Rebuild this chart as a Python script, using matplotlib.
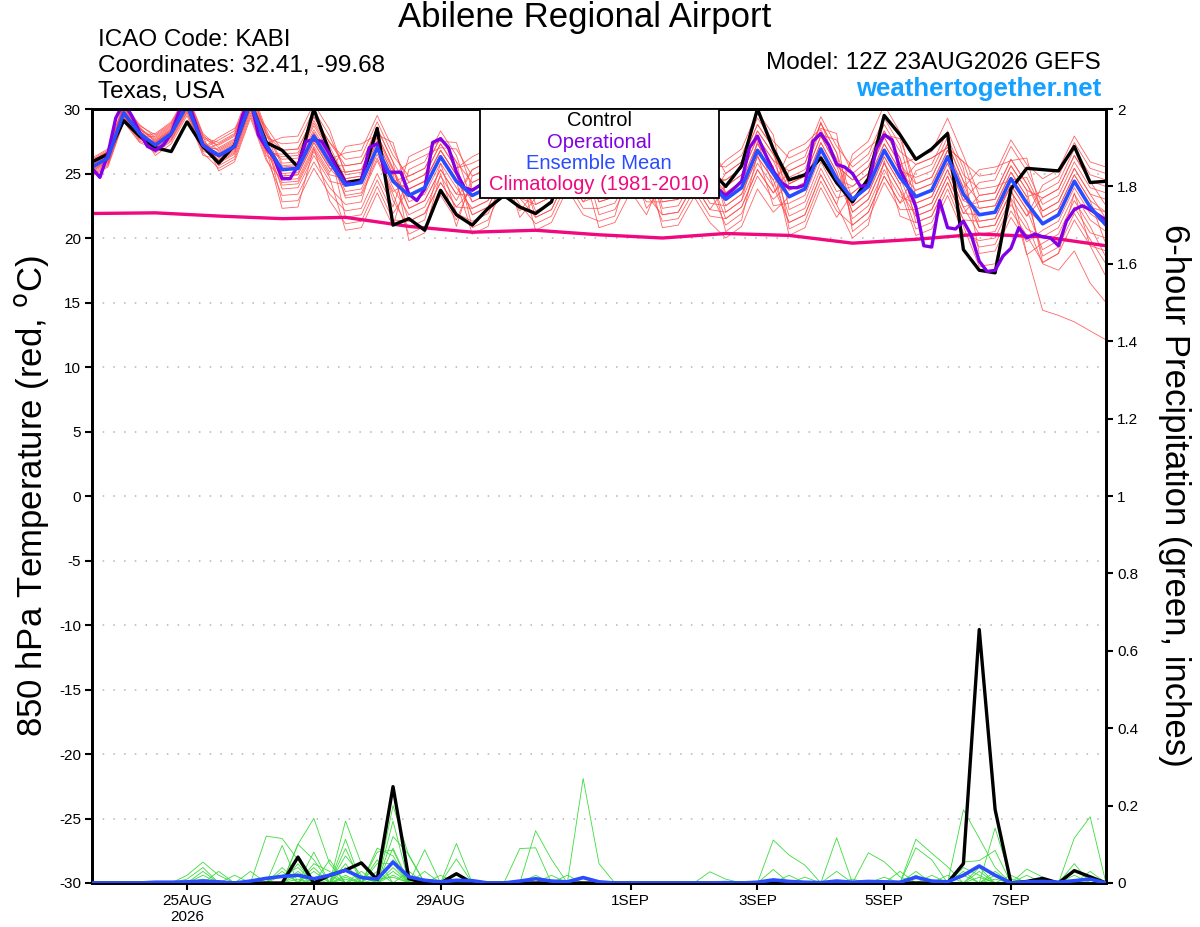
import numpy as np
import pandas as pd
import matplotlib
matplotlib.use('Agg')
import matplotlib.pyplot as plt
from matplotlib.patches import Rectangle

plt.rcParams['font.family'] = ['Liberation Sans', 'DejaVu Sans']

# -- time axes --
times = pd.date_range('2026-08-23 12:00', periods=65, freq='6h')
times_op = pd.date_range('2026-08-23 12:00', periods=129, freq='3h')
times_clim = pd.date_range('2026-08-23 12:00', periods=17, freq='D')

tick_dates = pd.to_datetime(['2026-08-25', '2026-08-27', '2026-08-29', '2026-09-01',
                             '2026-09-03', '2026-09-05', '2026-09-07'])
tick_labels = ['25AUG\n2026', '27AUG', '29AUG', '1SEP', '3SEP', '5SEP', '7SEP']

# -- 850 hPa temperature (C) --
control = [25.9, 26.5, 29.1, 27.9, 27.0, 26.7, 29.0, 27.1, 25.8, 27.2, 30.5, 27.4, 26.8,
           25.5, 30.0, 26.6, 24.3, 24.5, 28.5, 21.0, 21.5, 20.6, 23.7, 21.8, 21.0, 22.3,
           23.3, 22.4, 21.9, 22.8, 26.8, 25.0, 24.0, 24.5, 26.5, 25.2, 24.0, 24.3, 26.8,
           25.3, 24.0, 25.6, 30.0, 26.9, 24.5, 24.9, 26.2, 24.3, 22.8, 24.6, 29.5, 28.0,
           26.1, 26.9, 28.1, 19.1, 17.5, 17.3, 23.8, 25.4, 25.3, 25.2, 27.1, 24.3, 24.4]

ens_mean = [25.5, 26.2, 29.7, 28.1, 27.2, 28.1, 30.3, 27.2, 26.4, 27.1, 30.5, 27.2, 25.3,
            25.4, 27.9, 25.9, 24.1, 24.3, 27.0, 24.4, 23.3, 23.9, 26.3, 24.4, 23.3, 23.9,
            26.5, 24.6, 23.6, 24.2, 26.8, 24.8, 23.8, 24.2, 26.6, 24.8, 23.8, 24.0, 26.2,
            24.2, 23.0, 23.9, 26.8, 25.0, 23.2, 23.8, 26.9, 24.6, 23.0, 24.0, 26.8, 24.7,
            23.2, 23.7, 26.3, 23.4, 21.8, 22.0, 24.6, 22.7, 21.1, 21.8, 24.4, 22.4, 21.0]

# operational run is 3-hourly
operational = [25.4, 24.7, 26.5, 29.3, 30.5, 29.5, 28.2, 27.1, 26.8, 27.2,
               28.1, 29.8, 30.8, 29.0, 27.2, 26.7, 26.4, 26.7, 27.1, 29.5,
               30.8, 28.0, 27.0, 26.2, 24.6, 24.6, 25.6, 27.5, 27.6, 27.5,
               26.5, 25.3, 24.3, 24.2, 24.4, 27.0, 27.3, 25.1, 25.1, 25.1,
               23.4, 22.9, 23.8, 27.4, 27.7, 27.0, 25.1, 23.9, 23.7, 24.1,
               24.3, 25.2, 26.6, 26.0, 25.0, 24.3, 23.8, 24.2, 25.0, 26.2,
               27.0, 26.3, 25.0, 24.3, 23.9, 24.2, 25.0, 26.0, 26.8, 26.0,
               25.0, 24.2, 23.7, 24.0, 24.8, 25.8, 26.5, 25.6, 24.5, 23.8,
               23.3, 23.8, 24.4, 27.0, 27.9, 26.5, 25.2, 24.3, 23.9, 23.9,
               24.1, 27.5, 28.1, 27.2, 25.7, 25.5, 25.0, 24.0, 24.1, 26.9,
               28.0, 27.6, 25.3, 24.0, 22.4, 19.4, 19.3, 22.9, 20.8, 20.7,
               21.3, 20.2, 18.2, 17.4, 17.5, 18.6, 19.2, 20.8, 20.0, 20.3,
               20.1, 20.0, 19.4, 21.3, 22.2, 22.5, 22.2, 21.8, 21.4]

climatology = [21.9, 21.95, 21.7, 21.5, 21.6, 20.9, 20.45, 20.6, 20.25,
               20.0, 20.35, 20.2, 19.6, 19.9, 20.3, 20.1, 19.4]

ens_temp = [
    [25.9, 26.6, 30.1, 28.5, 27.7, 28.6, 30.8, 27.7, 27.2, 27.9, 31.3, 28.0, 26.8, 26.9, 29.4, 27.4, 26.1, 26.3, 29.0, 26.4, 24.8, 25.4, 27.8, 25.9, 24.3, 24.9, 26.0, 25.6, 25.6, 26.2, 27.0, 26.8, 26.3, 26.7, 29.1, 27.3, 25.3, 25.5, 27.7, 25.7, 25.5, 26.4, 29.3, 27.5, 26.2, 26.8, 28.0, 27.6, 25.0, 26.0, 28.8, 26.7, 25.7, 26.2, 27.0, 25.9, 24.8, 25.0, 27.6, 25.7, 24.6, 25.3, 27.9, 25.9, 25.5],
    [25.2, 25.9, 29.4, 27.8, 26.6, 27.5, 29.7, 26.6, 25.4, 26.1, 29.5, 26.2, 23.3, 23.4, 25.9, 23.9, 22.6, 22.8, 27.0, 22.9, 20.8, 21.4, 25.8, 21.9, 21.3, 21.9, 24.5, 22.6, 21.1, 21.7, 24.3, 22.3, 22.3, 22.7, 25.1, 23.3, 21.8, 22.0, 24.2, 22.2, 22.0, 22.9, 27.5, 24.0, 21.2, 21.8, 24.9, 22.6, 20.0, 21.0, 26.0, 21.7, 21.2, 21.7, 24.3, 21.4, 19.3, 19.5, 22.1, 20.2, 18.1, 18.8, 23.5, 19.4, 17.0],
    [25.7, 26.4, 29.9, 28.3, 27.0, 27.9, 30.1, 27.0, 26.9, 27.6, 31.0, 27.7, 24.8, 24.9, 27.4, 25.4, 25.1, 25.3, 28.0, 25.4, 22.3, 22.9, 25.3, 23.4, 23.3, 23.9, 26.5, 24.6, 24.6, 25.2, 27.8, 25.8, 22.8, 23.2, 25.6, 23.8, 24.3, 24.5, 26.7, 24.7, 24.5, 25.4, 28.3, 26.5, 23.7, 24.3, 27.4, 25.1, 22.0, 23.0, 25.8, 23.7, 21.7, 22.2, 24.8, 21.9, 21.8, 22.0, 24.0, 18.8, 14.4, 14.0, 13.5, 12.8, 12.1],
    [25.0, 25.7, 29.2, 27.6, 27.5, 28.4, 30.6, 27.5, 25.9, 26.6, 30.0, 26.7, 26.3, 26.4, 28.9, 26.9, 21.6, 21.8, 24.5, 21.9, 23.8, 24.4, 26.8, 24.9, 21.8, 22.4, 25.0, 23.1, 22.6, 23.2, 25.8, 23.8, 25.3, 25.7, 28.1, 26.3, 23.3, 23.5, 25.7, 23.7, 21.0, 21.9, 24.8, 23.0, 24.2, 24.8, 27.9, 25.6, 24.5, 25.5, 28.3, 26.2, 22.2, 22.7, 25.3, 22.4, 20.3, 20.5, 23.1, 21.2, 18.0, 17.5, 19.0, 16.5, 15.0],
    [26.1, 26.8, 30.3, 28.7, 28.0, 28.9, 31.1, 28.0, 26.7, 27.4, 30.8, 27.5, 24.3, 24.4, 26.9, 24.9, 24.6, 24.8, 27.5, 24.9, 25.8, 26.4, 27.0, 26.9, 24.8, 25.4, 28.0, 26.1, 23.1, 23.7, 26.3, 24.3, 24.3, 24.7, 27.1, 25.3, 26.3, 26.5, 27.0, 26.7, 23.5, 24.4, 27.3, 25.5, 21.7, 22.3, 25.4, 23.1, 23.5, 24.5, 27.3, 25.2, 24.7, 25.2, 27.8, 24.9, 23.8, 24.0, 24.5, 24.7, 22.1, 22.8, 25.4, 23.4, 23.0],
    [24.8, 25.5, 29.0, 27.4, 26.9, 27.8, 30.0, 26.9, 27.6, 28.3, 31.7, 28.4, 25.8, 25.9, 28.4, 26.4, 23.6, 23.8, 26.5, 23.9, 21.8, 22.4, 24.8, 22.9, 25.3, 25.9, 28.5, 26.6, 25.1, 25.7, 28.3, 26.3, 21.8, 22.2, 24.6, 22.8, 22.8, 23.0, 25.2, 23.2, 24.0, 24.9, 27.8, 26.0, 25.2, 25.8, 28.9, 26.6, 21.0, 22.0, 24.8, 22.7, 23.7, 24.2, 26.8, 23.9, 21.3, 21.5, 24.1, 22.2, 19.1, 19.8, 22.4, 20.4, 20.0],
    [25.6, 26.3, 29.8, 28.2, 26.4, 27.3, 29.5, 26.4, 26.1, 26.8, 30.2, 26.9, 22.3, 22.4, 27.0, 22.9, 21.1, 21.3, 24.0, 21.4, 21.3, 21.9, 24.3, 22.4, 23.8, 24.4, 27.0, 25.1, 22.1, 22.7, 25.3, 23.3, 24.8, 25.2, 27.6, 25.8, 24.8, 25.0, 27.2, 25.2, 20.5, 21.4, 26.5, 22.5, 22.7, 23.3, 26.4, 24.1, 26.0, 27.0, 28.0, 27.7, 24.2, 24.7, 27.3, 24.4, 22.8, 23.0, 25.6, 23.7, 23.1, 23.8, 26.4, 24.4, 24.0],
    [25.3, 26.0, 29.5, 27.9, 28.1, 29.0, 31.2, 28.1, 27.0, 27.7, 31.1, 27.8, 27.3, 27.4, 29.9, 27.9, 25.1, 25.3, 28.0, 25.4, 22.8, 23.4, 25.8, 23.9, 22.3, 22.9, 25.5, 23.6, 24.1, 24.7, 27.3, 25.3, 23.3, 23.7, 26.1, 24.3, 21.3, 21.5, 23.7, 21.7, 21.5, 22.4, 25.3, 23.5, 24.7, 25.3, 28.4, 26.1, 22.5, 23.5, 26.3, 24.2, 20.7, 21.2, 23.8, 20.9, 17.8, 18.0, 23.0, 18.7, 19.6, 20.3, 22.9, 20.9, 18.5],
    [26.0, 26.7, 30.2, 28.6, 27.4, 28.3, 30.5, 27.4, 25.6, 26.3, 29.7, 26.4, 25.5, 25.6, 28.1, 26.1, 26.6, 26.8, 29.5, 26.9, 24.3, 24.9, 27.3, 25.4, 25.8, 26.4, 29.0, 27.1, 26.6, 27.2, 29.8, 27.8, 23.8, 24.2, 26.6, 24.8, 24.3, 24.5, 26.7, 24.7, 26.0, 26.9, 29.8, 28.0, 22.2, 22.8, 25.9, 23.6, 24.0, 25.0, 27.8, 25.7, 26.2, 26.7, 29.3, 26.4, 23.3, 23.5, 26.1, 24.2, 21.6, 22.3, 24.9, 22.9, 22.0],
    [25.1, 25.8, 29.3, 27.7, 27.2, 28.1, 30.3, 27.2, 26.6, 27.3, 30.7, 27.4, 23.8, 23.9, 26.4, 24.4, 24.1, 24.3, 27.0, 24.4, 24.8, 25.4, 27.8, 25.9, 20.8, 21.4, 24.0, 22.1, 23.6, 24.2, 26.8, 24.8, 26.8, 27.2, 29.6, 27.8, 25.3, 25.5, 27.7, 25.7, 23.0, 23.9, 26.8, 25.0, 23.7, 24.3, 27.4, 25.1, 21.5, 22.5, 25.3, 23.2, 22.7, 23.2, 25.8, 22.9, 22.3, 22.5, 25.1, 23.2, 23.6, 24.3, 26.9, 24.9, 24.5],
    [25.8, 26.5, 30.0, 28.4, 27.6, 28.5, 30.7, 27.6, 26.2, 26.9, 30.3, 27.0, 26.1, 26.2, 28.7, 26.7, 23.1, 23.3, 26.0, 23.4, 20.3, 20.9, 23.3, 21.4, 24.3, 24.9, 27.5, 25.6, 21.6, 22.2, 24.8, 22.8, 23.3, 23.7, 26.1, 24.3, 26.8, 27.0, 29.2, 27.2, 25.0, 25.9, 28.8, 27.0, 20.7, 21.3, 24.4, 22.1, 21.0, 22.0, 24.8, 22.7, 25.2, 25.7, 28.3, 25.4, 18.8, 19.0, 21.6, 19.7, 20.6, 21.3, 23.9, 21.9, 21.0],
    [25.4, 26.1, 29.6, 28.0, 26.8, 27.7, 29.9, 26.8, 27.3, 28.0, 31.4, 28.1, 25.0, 25.1, 27.6, 25.6, 25.6, 25.8, 28.5, 25.9, 23.8, 24.4, 26.8, 24.9, 22.8, 23.4, 26.0, 24.1, 26.1, 26.7, 29.3, 27.3, 25.8, 26.2, 28.6, 26.8, 22.3, 22.5, 24.7, 22.7, 22.5, 23.4, 26.3, 24.5, 25.7, 26.3, 29.4, 27.1, 25.5, 26.5, 29.3, 27.2, 22.7, 23.2, 25.8, 22.9, 24.3, 24.5, 27.1, 25.2, 22.6, 23.3, 25.9, 23.9, 23.5],
    [25.7, 26.4, 29.9, 28.3, 27.3, 28.2, 30.4, 27.3, 26.8, 27.5, 30.9, 27.6, 22.8, 22.9, 25.4, 23.4, 22.1, 22.3, 25.0, 22.4, 26.3, 26.9, 27.5, 27.4, 23.8, 24.4, 27.0, 25.1, 20.6, 21.2, 23.8, 21.8, 21.3, 21.7, 26.0, 22.3, 23.8, 24.0, 26.2, 24.2, 24.5, 25.4, 28.3, 26.5, 24.2, 24.8, 29.0, 25.6, 22.0, 23.0, 25.8, 23.7, 20.2, 20.7, 23.3, 20.4, 19.8, 20.0, 22.6, 20.7, 20.1, 20.8, 23.4, 21.4, 20.5],
    [24.9, 25.6, 29.1, 27.5, 27.1, 28.0, 30.2, 27.1, 25.8, 26.5, 29.9, 26.6, 26.5, 26.6, 29.1, 27.1, 24.6, 24.8, 27.5, 24.9, 21.3, 21.9, 24.3, 22.4, 22.3, 22.9, 25.5, 23.6, 24.6, 25.2, 27.8, 25.8, 24.8, 25.2, 27.6, 25.8, 20.8, 21.0, 23.2, 21.2, 20.0, 20.9, 23.8, 22.0, 23.2, 23.8, 26.9, 24.6, 24.0, 25.0, 27.8, 25.7, 24.2, 24.7, 27.3, 24.4, 20.8, 21.0, 23.6, 21.7, 24.1, 24.8, 27.4, 25.4, 25.0],
    [26.2, 26.9, 30.4, 28.8, 27.8, 28.7, 30.9, 27.8, 27.4, 28.1, 31.5, 28.2, 25.6, 25.7, 28.2, 26.2, 23.3, 23.5, 26.2, 23.6, 24.3, 24.9, 27.3, 25.4, 26.3, 26.9, 27.0, 27.6, 24.1, 24.7, 27.3, 25.3, 20.8, 21.2, 23.6, 21.8, 24.8, 25.0, 27.2, 25.2, 23.5, 24.4, 27.3, 25.5, 20.2, 20.8, 23.9, 21.6, 23.5, 24.5, 27.3, 25.2, 23.7, 24.2, 26.8, 23.9, 25.3, 25.5, 26.0, 26.2, 21.6, 22.3, 24.9, 22.9, 19.5],
    [25.2, 25.9, 29.4, 27.8, 27.9, 28.8, 31.0, 27.9, 25.2, 25.9, 29.3, 26.0, 24.5, 24.6, 27.1, 25.1, 27.1, 27.3, 28.0, 27.4, 23.3, 23.9, 26.3, 24.4, 20.3, 20.9, 25.5, 21.6, 23.1, 23.7, 26.3, 24.3, 24.3, 24.7, 27.1, 25.3, 25.8, 26.0, 28.2, 26.2, 22.0, 22.9, 25.8, 24.0, 26.7, 27.3, 28.5, 28.1, 20.5, 21.5, 24.3, 22.2, 22.2, 22.7, 25.3, 22.4, 22.8, 23.0, 25.6, 23.7, 18.1, 18.8, 21.4, 19.4, 19.0],
    [26.0, 26.7, 30.2, 28.6, 26.7, 27.6, 29.8, 26.7, 26.5, 27.2, 30.6, 27.3, 27.8, 27.9, 30.4, 28.4, 24.9, 25.1, 27.8, 25.2, 22.3, 22.9, 25.3, 23.4, 25.3, 25.9, 28.5, 26.6, 22.6, 23.2, 25.8, 23.8, 25.3, 25.7, 28.1, 26.3, 22.8, 23.0, 25.2, 23.2, 25.0, 25.9, 28.8, 27.0, 24.2, 24.8, 27.9, 25.6, 24.5, 25.5, 28.3, 26.2, 21.2, 21.7, 24.3, 21.4, 21.3, 21.5, 24.1, 22.2, 21.1, 21.8, 24.4, 22.4, 22.0],
    [25.3, 26.0, 29.5, 27.9, 27.4, 28.3, 30.5, 27.4, 26.0, 26.7, 30.1, 26.8, 24.1, 24.2, 26.7, 24.7, 20.6, 20.8, 23.5, 20.9, 25.3, 25.9, 28.3, 26.4, 22.8, 23.4, 26.0, 24.1, 25.1, 25.7, 28.3, 26.3, 22.8, 23.2, 25.6, 23.8, 25.3, 25.5, 27.7, 25.7, 22.5, 23.4, 26.3, 24.5, 21.2, 21.8, 24.9, 22.6, 26.5, 27.5, 30.3, 28.2, 23.2, 23.7, 26.3, 23.4, 20.8, 21.0, 23.6, 21.7, 23.1, 23.8, 26.4, 24.4, 22.5],
    [25.5, 26.2, 29.7, 28.1, 27.0, 27.9, 30.1, 27.0, 27.8, 28.5, 30.2, 28.6, 26.8, 26.9, 29.4, 27.4, 25.6, 25.8, 28.5, 25.9, 19.8, 20.4, 25.0, 20.9, 24.8, 25.4, 28.0, 26.1, 23.6, 24.2, 26.8, 24.8, 25.8, 26.2, 28.6, 26.8, 21.8, 22.0, 24.2, 22.2, 24.0, 24.9, 27.8, 26.0, 23.2, 23.8, 26.9, 24.6, 22.5, 23.5, 26.3, 24.2, 25.7, 26.2, 27.0, 25.9, 22.3, 22.5, 25.1, 23.2, 18.6, 19.3, 21.9, 19.9, 18.0],
    [25.9, 26.6, 30.1, 28.5, 27.5, 28.4, 30.6, 27.5, 26.3, 27.0, 30.4, 27.1, 24.8, 24.9, 27.4, 25.4, 24.1, 24.3, 27.0, 24.4, 23.8, 24.4, 26.8, 24.9, 21.8, 22.4, 25.0, 23.1, 21.6, 22.2, 24.8, 22.8, 24.3, 24.7, 27.1, 25.3, 24.3, 24.5, 26.7, 24.7, 21.5, 22.4, 25.3, 23.5, 25.2, 25.8, 28.9, 26.6, 23.0, 24.0, 26.8, 24.7, 21.7, 22.2, 24.8, 21.9, 23.3, 23.5, 26.1, 24.2, 22.1, 22.8, 25.4, 23.4, 21.5],
]

# -- 6-hour precipitation (inches) --
ctrl_precip = [0, 0, 0, 0, 0, 0, 0, 0, 0, 0, 0, 0, 0,
               0.067, 0, 0.02, 0.033, 0.052, 0.009, 0.249, 0.011, 0, 0, 0.024, 0,
               0, 0, 0, 0, 0, 0, 0, 0, 0, 0,
               0, 0, 0, 0, 0, 0, 0, 0, 0, 0,
               0, 0, 0, 0, 0, 0, 0, 0, 0, 0,
               0.05, 0.655, 0.19, 0, 0.004, 0.012, 0, 0.032, 0.016, 0]

mean_precip = [0, 0, 0, 0, 0.002, 0.002, 0.003, 0.005, 0.003, 0, 0.005, 0.012, 0.017,
               0.02, 0.011, 0.02, 0.033, 0.014, 0.01, 0.054, 0.016, 0.007, 0.003, 0.007, 0.006,
               0, 0, 0.005, 0.011, 0.005, 0.003, 0.014, 0.003, 0, 0,
               0, 0, 0, 0, 0, 0.001, 0, 0.002, 0.008, 0.004,
               0.002, 0.001, 0.005, 0.002, 0.004, 0.003, 0.002, 0.015, 0.005, 0.003,
               0.02, 0.044, 0.02, 0, 0.003, 0.004, 0.002, 0.006, 0.01, 0]

# members: {step index: amount}, everything else is dry
ens_precip_pts = [
    {6: 0.02, 7: 0.054, 8: 0.02, 13: 0.10, 14: 0.167, 15: 0.05, 19: 0.20, 20: 0.07, 31: 0.27, 32: 0.05, 55: 0.189, 56: 0.116, 57: 0.04},
    {7: 0.03, 11: 0.121, 12: 0.115, 13: 0.06, 16: 0.16, 17: 0.05, 19: 0.16, 23: 0.102, 28: 0.135, 29: 0.061, 43: 0.111, 44: 0.072, 45: 0.046, 57: 0.142, 58: 0.01},
    {6: 0.01, 7: 0.04, 10: 0.03, 12: 0.097, 16: 0.113, 18: 0.08, 19: 0.085, 21: 0.086, 27: 0.089, 28: 0.091, 47: 0.117, 52: 0.113, 53: 0.077, 54: 0.042, 62: 0.116, 63: 0.171},
    {7: 0.02, 13: 0.10, 14: 0.06, 16: 0.089, 18: 0.09, 19: 0.07, 23: 0.062, 49: 0.078, 50: 0.055, 51: 0.016, 55: 0.054, 56: 0.058, 57: 0.084},
    {8: 0.03, 12: 0.04, 14: 0.08, 16: 0.05, 19: 0.12, 20: 0.073, 30: 0.02, 52: 0.091, 53: 0.06, 56: 0.03, 59: 0.036, 60: 0.015},
    {9: 0.02, 13: 0.05, 15: 0.06, 18: 0.05, 19: 0.05, 22: 0.02, 39: 0.029, 40: 0.01, 55: 0.03, 62: 0.05},
    {12: 0.03, 14: 0.04, 17: 0.03, 19: 0.09, 43: 0.035, 47: 0.03, 57: 0.02, 63: 0.03},
    {13: 0.03, 16: 0.04, 18: 0.06, 21: 0.03, 48: 0.01, 51: 0.03, 55: 0.02, 58: 0.02},
    {14: 0.05, 15: 0.03, 19: 0.06, 29: 0.02, 44: 0.02, 52: 0.03, 56: 0.04},
    {7: 0.01, 16: 0.07, 17: 0.02, 20: 0.03, 45: 0.015, 54: 0.02, 59: 0.02},
    {12: 0.02, 13: 0.04, 18: 0.03, 23: 0.02, 53: 0.02, 57: 0.03},
    {14: 0.03, 16: 0.02, 19: 0.04, 55: 0.04, 56: 0.02},
    {15: 0.02, 19: 0.03, 50: 0.015, 62: 0.02},
    {13: 0.02, 17: 0.015, 28: 0.02},
    {16: 0.015, 19: 0.02, 52: 0.02},
    {14: 0.01, 21: 0.01, 56: 0.015},
    {18: 0.01, 19: 0.015},
    {13: 0.01, 57: 0.01},
    {},
    {16: 0.01},
]
ens_precip = [[m.get(i, 0.0) for i in range(len(times))] for m in ens_precip_pts]

# -- colours --
c_red = '#ff4a4a'
c_green = '#3ddc3d'
c_op = '#8200e6'
c_mean = '#2a4cff'
c_clim = '#f0087f'
c_site = '#14a0ff'

fig = plt.figure(figsize=(12, 9.27), dpi=100)
ax1 = fig.add_axes([92/1200, 1-883/927, 1014/1200, 774/927])
ax2 = ax1.twinx()

for v in range(-25, 30, 5):
    ax1.axhline(v, color='#b4b4b4', lw=1.1, ls=(0, (1, 6)), zorder=0)

for m in ens_temp:
    ax1.plot(times, m, color=c_red, lw=0.6, alpha=0.85, zorder=1)
ax1.plot(times_clim, climatology, color=c_clim, lw=2.4, zorder=2)
ax1.plot(times, control, color='black', lw=2.4, zorder=3)
ax1.plot(times_op, operational, color=c_op, lw=2.4, zorder=4)
ax1.plot(times, ens_mean, color=c_mean, lw=2.6, zorder=5)

for m in ens_precip:
    ax2.plot(times, m, color=c_green, lw=0.6, zorder=1)
ax2.plot(times, ctrl_precip, color='black', lw=2.4, zorder=3)
ax2.plot(times, mean_precip, color=c_mean, lw=2.6, zorder=4)

ax1.set_xlim(times[0], times[-1])
ax1.set_ylim(-30, 30)
ax2.set_ylim(0, 2)

ax1.set_yticks(range(-30, 31, 5))
ax1.set_yticklabels([str(v) for v in range(-30, 31, 5)])
ax2.set_yticks(np.arange(0, 2.01, 0.2))
ax2.set_yticklabels(['0', '0.2', '0.4', '0.6', '0.8', '1', '1.2', '1.4', '1.6', '1.8', '2'])
ax1.set_xticks(tick_dates)
ax1.set_xticklabels(tick_labels)

for ax in (ax1, ax2):
    ax.tick_params(axis='both', direction='out', length=5, width=1.5, labelsize=11, pad=3)
    for s in ax.spines.values():
        s.set_linewidth(2.0)

# -- legend box --
ax2.add_patch(Rectangle((0.3826, 0.885), 0.2357, 0.115, transform=ax2.transAxes,
                        facecolor='white', edgecolor='black', lw=1.3, zorder=10))
leg = [('Control', 'black', 0.9845), ('Operational', c_op, 0.957),
       ('Ensemble Mean', c_mean, 0.930), ('Climatology (1981-2010)', c_clim, 0.902)]
for txt, col, yy in leg:
    ax2.text(0.5, yy, txt, transform=ax2.transAxes, ha='center', va='center',
             color=col, fontsize=14.5, zorder=11)

# -- header --
fig.text(0.4875, 1-18/927, 'Abilene Regional Airport', ha='center', va='center', fontsize=25)
fig.text(98/1200, 1-40/927, 'ICAO Code: KABI', ha='left', va='center', fontsize=17.5)
fig.text(98/1200, 1-66/927, 'Coordinates: 32.41, -99.68', ha='left', va='center', fontsize=17.5)
fig.text(98/1200, 1-92/927, 'Texas, USA', ha='left', va='center', fontsize=17.5)
fig.text(1101/1200, 1-63/927, 'Model: 12Z 23AUG2026 GEFS', ha='right', va='center', fontsize=17.5)
fig.text(1101/1200, 1-89/927, 'weathertogether.net', ha='right', va='center', fontsize=18.5,
         fontweight='bold', color=c_site)

fig.text(32/1200, 1-496/927, '850 hPa Temperature (red, $^{\\mathrm{o}}$C)', rotation=90,
         ha='center', va='center', fontsize=25)
fig.text(1175/1200, 1-495/927, '6-hour Precipitation (green, inches)', rotation=270,
         ha='center', va='center', fontsize=25)

fig.savefig('out.png', dpi=100)
